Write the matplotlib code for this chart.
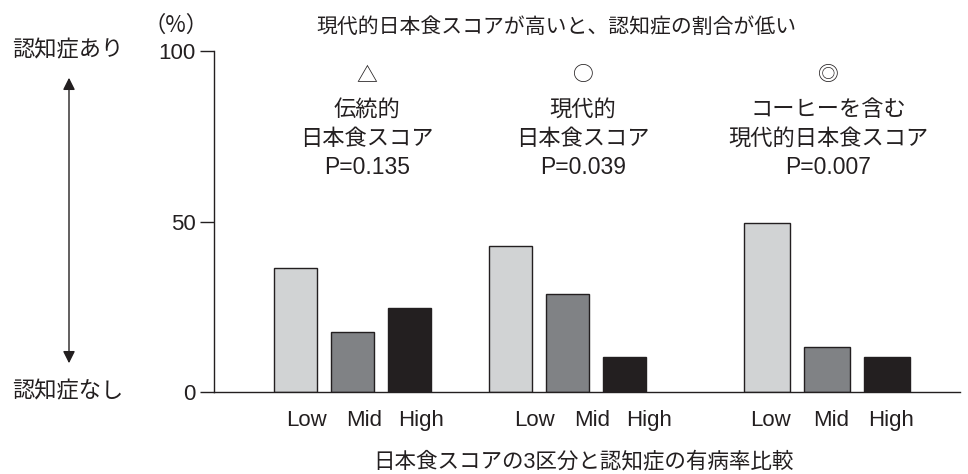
import matplotlib
matplotlib.use('Agg')
import matplotlib.pyplot as plt

plt.rcParams['font.family'] = ['Liberation Sans', 'Noto Sans CJK JP', 'DejaVu Sans']

# data (%)
levels = ['Low', 'Mid', 'High']
traditional = [36.5, 17.5, 24.5]
modern = [42.8, 28.8, 10.2]
modern_coffee = [49.6, 13.2, 10.2]
groups = [traditional, modern, modern_coffee]
marks = ['△', '○', '◎']
group_titles = [['伝統的', '日本食スコア'], ['現代的', '日本食スコア'], ['コーヒーを含む', '現代的日本食スコア']]
p_values = ['P=0.135', 'P=0.039', 'P=0.007']

colors = ['#d1d3d4', '#808285', '#231f20']
ink = '#231f20'
cjk = ['Noto Sans CJK JP', 'DejaVu Sans']

W, H = 968, 474
fig = plt.figure(figsize=(W / 100, H / 100), dpi=100)
ax = fig.add_axes([214 / W, (H - 392) / H, (960 - 214) / W, (392 - 51) / H])

def px(x, y):
    return x / W, 1 - y / H

# x axis in pixel-like units from the y axis
centers = [138, 353, 613]
spacing = [57, 57, 60]
width = [43, 43, 46]
label_shift = [12, 25, 4]

tick_pos = []
for g, vals in enumerate(groups):
    for i, v in enumerate(vals):
        x = centers[g] + (i - 1) * spacing[g]
        ax.bar(x, v, width=width[g], color=colors[i], edgecolor=ink, linewidth=1.0, zorder=3)
        tick_pos.append(x + label_shift[g])

ax.set_xlim(0, 746)
ax.set_ylim(0, 100)
ax.set_xticks(tick_pos)
ax.set_xticklabels(levels * 3, fontsize=16, color=ink)
ax.tick_params(axis='x', length=0, pad=13)
ax.set_yticks([0, 50, 100])
ax.set_yticklabels(['0', '50', '100'], fontsize=16, color=ink)
ax.tick_params(axis='y', length=10, width=1.0, color=ink, pad=3, direction='out')
for s in ['top', 'right']:
    ax.spines[s].set_visible(False)
for s in ['left', 'bottom']:
    ax.spines[s].set_color(ink)
    ax.spines[s].set_linewidth(1.0)
ax.spines['bottom'].set_zorder(4)

# annotations above each group
ann_x = [367, 583, 828]
for g in range(3):
    fig.text(*px(ann_x[g], 75), marks[g], ha='center', va='center', fontsize=15, color=ink,
             family=cjk)
    fig.text(*px(ann_x[g], 110), group_titles[g][0], ha='center', va='center', fontsize=16, color=ink)
    fig.text(*px(ann_x[g], 139), group_titles[g][1], ha='center', va='center', fontsize=16, color=ink)
    fig.text(*px(ann_x[g], 167), p_values[g], ha='center', va='center', fontsize=16.5, color=ink)

fig.text(*px(556, 27), '現代的日本食スコアが高いと、認知症の割合が低い', ha='center', va='center',
         fontsize=15, color=ink)
fig.text(*px(176, 25), '（%）', ha='center', va='center', fontsize=16, color=ink, family=cjk)
fig.text(*px(12, 51), '認知症あり', ha='left', va='center', fontsize=16, color=ink)
fig.text(*px(12, 392), '認知症なし', ha='left', va='center', fontsize=16, color=ink)
fig.text(*px(583, 462), '日本食スコアの3区分と認知症の有病率比較', ha='center', va='center',
         fontsize=15.5, color=ink)

fig.add_artist(matplotlib.patches.FancyArrowPatch(
    px(69, 75), px(69, 366), transform=fig.transFigure,
    arrowstyle='<|-|>', mutation_scale=18, color=ink, linewidth=1.0))

fig.savefig('out.png', dpi=100)
